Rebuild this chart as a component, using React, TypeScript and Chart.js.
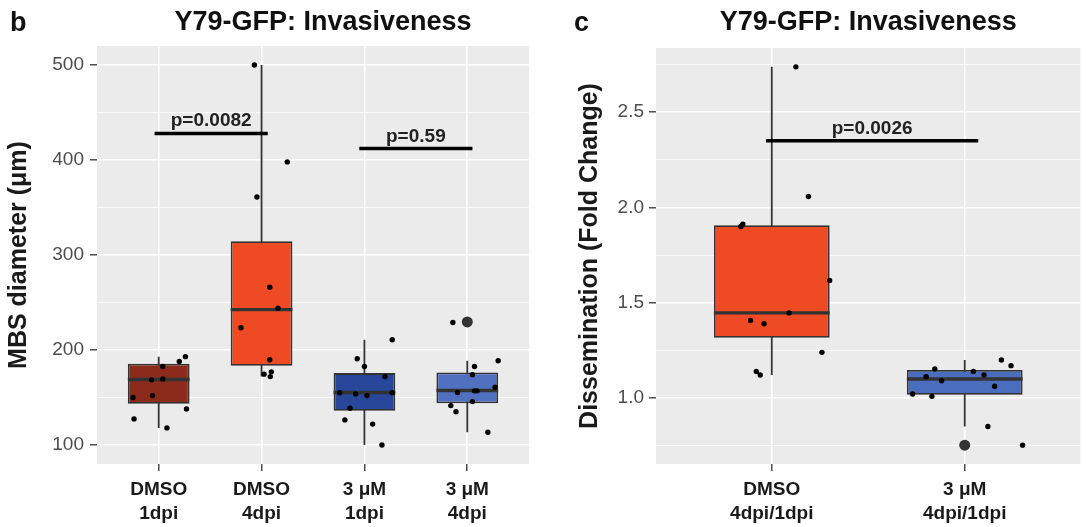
import React, { useEffect, useRef } from "react";
import { Chart, registerables } from "chart.js";

Chart.register(...registerables);

const FONT = '"Liberation Sans", Arial, Helvetica, sans-serif';

// ---------- Panel b data ----------
const bCategories = [["DMSO", "1dpi"], ["DMSO", "4dpi"], ["3 μM", "1dpi"], ["3 μM", "4dpi"]];
const bColors = ["#8C2A1C", "#EE4B24", "#28469A", "#5070C0"];
const bQ1 = [143.5, 183.5, 136, 144];
const bMedian = [169, 242.5, 155.2, 157.3];
const bQ3 = [185.5, 314.6, 175.7, 176.3];
const bWhiskerLow = [118, 172, 100, 113.4];
const bWhiskerHigh = [193, 500, 210.8, 188.7];
const bOutliers = [[], [], [], [229.5]];
const bPoints1 = [150, 127.5, 152, 168.6, 182.6, 169.6, 118, 188, 193, 138];
const bJitter1 = [-0.25, -0.24, -0.06, -0.07, 0.04, 0.04, 0.08, 0.2, 0.26, 0.27];
const bPoints2 = [500, 398, 361, 266, 244, 223.5, 189.7, 174.6, 177, 172];
const bJitter2 = [-0.07, 0.25, -0.045, 0.08, 0.16, -0.2, 0.08, 0.024, 0.095, 0.085];
const bPoints3 = [126.4, 138.7, 155, 153.8, 190.8, 182.6, 152, 122, 100, 172, 155, 210.8];
const bJitter3 = [-0.19, -0.14, -0.24, -0.085, -0.07, 0, 0.025, 0.08, 0.17, 0.2, 0.27, 0.27];
const bPoints4 = [229, 141.5, 135, 155.2, 173.9, 182.6, 145.7, 157, 157, 113.4, 160.8, 188.7];
const bJitter4 = [-0.14, -0.16, -0.11, -0.095, 0.05, 0.07, 0.05, 0.07, 0.095, 0.2, 0.27, 0.3];
const bYMajor = [100, 200, 300, 400, 500];
const bYMinor = [150, 250, 350, 450];
const bYLabels = ["100", "200", "300", "400", "500"];
const bYRange = [80, 520];
const bBracketStart = [-0.04, 1.95];
const bBracketEnd = [1.06, 3.05];
const bBracketY = [428, 412];
const bBracketLabels = ["p=0.0082", "p=0.59"];

// ---------- Panel c data ----------
const cCategories = [["DMSO", "4dpi/1dpi"], ["3 μM", "4dpi/1dpi"]];
const cColors = ["#EE4B24", "#4B6DBD"];
const cQ1 = [1.316, 1.017];
const cMedian = [1.447, 1.1];
const cQ3 = [1.907, 1.147];
const cWhiskerLow = [1.121, 0.851];
const cWhiskerHigh = [2.738, 1.2];
const cOutliers = [[], [0.753]];
const cPoints1 = [2.738, 2.058, 1.9, 1.913, 1.617, 1.447, 1.407, 1.39, 1.24, 1.14, 1.121];
const cJitter1 = [0.125, 0.19, -0.16, -0.15, 0.3, 0.09, -0.11, -0.04, 0.26, -0.08, -0.06];
const cPoints2 = [1.021, 1.112, 1.009, 1.153, 1.091, 1.14, 1.121, 1.062, 0.851, 1.2, 1.17, 0.753];
const cJitter2 = [-0.27, -0.2, -0.17, -0.155, -0.12, 0.045, 0.1, 0.155, 0.12, 0.19, 0.24, 0.3];
const cYMajor = [1.0, 1.5, 2.0, 2.5];
const cYMinor = [0.75, 1.25, 1.75, 2.25, 2.75];
const cYLabels = ["1.0", "1.5", "2.0", "2.5"];
const cYRange = [0.654, 2.837];
const cBracketStart = [-0.03];
const cBracketEnd = [1.07];
const cBracketY = [2.35];
const cBracketLabels = ["p=0.0026"];

const TITLE = "Y79-GFP: Invasiveness";

type Panel = {
  letter: string;
  categories: string[][];
  colors: string[];
  q1: number[];
  median: number[];
  q3: number[];
  wl: number[];
  wh: number[];
  outliers: number[][];
  points: number[][];
  jitter: number[][];
  yMajor: number[];
  yMinor: number[];
  yLabels: string[];
  yRange: number[];
  yTitle: string;
  bStart: number[];
  bEnd: number[];
  bY: number[];
  bLabels: string[];
  width: number;
  left: number;
  yAxisWidth: number;
  top: number;
  right: number;
  xAxisHeight: number;
  yTitlePad: number;
  tickPad: number;
  letterX: number;
  titleShift: number;
};

const panelB: Panel = {
  letter: "b",
  categories: bCategories,
  colors: bColors,
  q1: bQ1,
  median: bMedian,
  q3: bQ3,
  wl: bWhiskerLow,
  wh: bWhiskerHigh,
  outliers: bOutliers,
  points: [bPoints1, bPoints2, bPoints3, bPoints4],
  jitter: [bJitter1, bJitter2, bJitter3, bJitter4],
  yMajor: bYMajor,
  yMinor: bYMinor,
  yLabels: bYLabels,
  yRange: bYRange,
  yTitle: "MBS diameter (μm)",
  bStart: bBracketStart,
  bEnd: bBracketEnd,
  bY: bBracketY,
  bLabels: bBracketLabels,
  width: 545,
  left: 0,
  yAxisWidth: 97,
  top: 46,
  right: 16,
  xAxisHeight: 63,
  yTitlePad: 4.5,
  tickPad: 6,
  letterX: 10,
  titleShift: 10,
};

const panelC: Panel = {
  letter: "c",
  categories: cCategories,
  colors: cColors,
  q1: cQ1,
  median: cMedian,
  q3: cQ3,
  wl: cWhiskerLow,
  wh: cWhiskerHigh,
  outliers: cOutliers,
  points: [cPoints1, cPoints2],
  jitter: [cJitter1, cJitter2],
  yMajor: cYMajor,
  yMinor: cYMinor,
  yLabels: cYLabels,
  yRange: cYRange,
  yTitle: "Dissemination (Fold Change)",
  bStart: cBracketStart,
  bEnd: cBracketEnd,
  bY: cBracketY,
  bLabels: cBracketLabels,
  width: 541,
  left: 545,
  yAxisWidth: 111,
  top: 48,
  right: 0,
  xAxisHeight: 63,
  yTitlePad: 30.5,
  tickPad: 5,
  letterX: 29,
  titleShift: 0,
};

const decorPlugin = {
  id: "decor",
  beforeDraw(chart: any) {
    const { ctx, chartArea } = chart;
    ctx.save();
    ctx.fillStyle = "#EBEBEB";
    ctx.fillRect(chartArea.left, chartArea.top, chartArea.right - chartArea.left, chartArea.bottom - chartArea.top);
    ctx.restore();
  },
  afterDatasetsDraw(chart: any, _args: any, opts: any) {
    const { ctx } = chart;
    const xs = chart.scales.x;
    const ys = chart.scales.y;
    ctx.save();
    ctx.fillStyle = "#222";
    ctx.font = `bold 19px ${FONT}`;
    ctx.textAlign = "center";
    ctx.textBaseline = "alphabetic";
    (opts.labels || []).forEach((lab: string, i: number) => {
      const cx = xs.getPixelForValue((opts.start[i] + opts.end[i]) / 2);
      const cy = ys.getPixelForValue(opts.y[i]) - 7;
      ctx.fillText(lab, cx, cy);
    });
    ctx.restore();
  },
  afterDraw(chart: any, _args: any, opts: any) {
    const { ctx, chartArea } = chart;
    ctx.save();
    ctx.fillStyle = "#111";
    ctx.font = `bold 27px ${FONT}`;
    ctx.textBaseline = "alphabetic";
    ctx.textAlign = "center";
    ctx.fillText(opts.title, (chartArea.left + chartArea.right) / 2 + opts.titleShift, 30);
    ctx.textAlign = "left";
    ctx.fillText(opts.letter, opts.letterX, 31);
    ctx.restore();
  },
};

function BoxPanel({ p }: { p: Panel }) {
  const ref = useRef<HTMLCanvasElement>(null);
  useEffect(() => {
    if (!ref.current) return;
    const hw = 0.3;
    const n = p.categories.length;
    const whiskers: any[] = [];
    const medians: any[] = [];
    const outl: any[] = [];
    const pts: any[] = [];
    for (let i = 0; i < n; i++) {
      whiskers.push({ x: i, y: p.wl[i] }, { x: i, y: p.wh[i] }, { x: i, y: null });
      medians.push({ x: i - hw, y: p.median[i] }, { x: i + hw, y: p.median[i] }, { x: i + hw, y: null });
      p.outliers[i].forEach((v) => outl.push({ x: i, y: v }));
      p.points[i].forEach((v, j) => pts.push({ x: i + p.jitter[i][j], y: v }));
    }
    const brackets = p.bLabels.map((_, i) => ({
      type: "line",
      data: [
        { x: p.bStart[i], y: p.bY[i] },
        { x: p.bEnd[i], y: p.bY[i] },
      ],
      borderColor: "#000",
      borderWidth: 3.5,
      pointRadius: 0,
      order: 0,
    }));
    const allTicks = [...p.yMajor, ...p.yMinor].sort((a, b) => a - b);
    const isMajor = (v: number) => p.yMajor.some((m) => Math.abs(m - v) < 1e-9);

    const chart = new Chart(ref.current, {
      type: "bar",
      data: {
        datasets: [
          {
            type: "bar",
            data: p.categories.map((_, i) => ({ x: i, y: [p.q1[i], p.q3[i]] })),
            backgroundColor: p.colors,
            borderColor: "#333",
            borderWidth: 1.8,
            borderSkipped: false,
            categoryPercentage: 0.6,
            barPercentage: 1,
            order: 3,
          },
          {
            type: "line",
            data: whiskers,
            borderColor: "#333",
            borderWidth: 1.8,
            pointRadius: 0,
            spanGaps: false,
            order: 4,
          },
          {
            type: "line",
            data: medians,
            borderColor: "#333",
            borderWidth: 3.4,
            pointRadius: 0,
            spanGaps: false,
            order: 2,
          },
          {
            type: "line",
            data: outl,
            showLine: false,
            pointRadius: 5.5,
            pointBackgroundColor: "#333",
            pointBorderWidth: 0,
            order: 1,
          },
          {
            type: "line",
            data: pts,
            showLine: false,
            pointRadius: 2.7,
            pointBackgroundColor: "#000",
            pointBorderWidth: 0,
            order: 0,
          },
          ...brackets,
        ] as any,
      },
      options: {
        responsive: false,
        animation: false,
        events: [],
        layout: { padding: { top: p.top, right: p.right, left: 0, bottom: 0 } },
        plugins: {
          legend: { display: false },
          tooltip: { enabled: false },
          title: { display: false },
          decor: {
            title: TITLE,
            titleShift: p.titleShift,
            letter: p.letter,
            letterX: p.letterX,
            labels: p.bLabels,
            start: p.bStart,
            end: p.bEnd,
            y: p.bY,
          },
        } as any,
        scales: {
          x: {
            type: "linear",
            offset: false,
            min: -0.6,
            max: n - 0.4,
            afterBuildTicks: (s: any) => {
              s.ticks = p.categories.map((_, i) => ({ value: i }));
            },
            afterFit: (s: any) => {
              s.height = p.xAxisHeight;
            },
            ticks: {
              autoSkip: false,
              maxRotation: 0,
              minRotation: 0,
              padding: 7,
              color: "#1a1a1a",
              font: { family: FONT, size: 19, weight: "bold", lineHeight: 1.27 },
              callback: (v: any) => p.categories[Math.round(v)] as any,
            },
            grid: {
              offset: false,
              color: "#ffffff",
              lineWidth: 1.6,
              drawTicks: true,
              tickLength: 7,
              tickColor: "#333",
              tickWidth: 1.3,
            },
            border: { display: false },
          },
          y: {
            type: "linear",
            min: p.yRange[0],
            max: p.yRange[1],
            afterBuildTicks: (s: any) => {
              s.ticks = allTicks.map((v) => ({ value: v }));
            },
            afterFit: (s: any) => {
              s.width = p.yAxisWidth;
            },
            ticks: {
              autoSkip: false,
              padding: p.tickPad,
              color: "#4D4D4D",
              font: { family: FONT, size: 19 },
              callback: (v: any) => {
                const idx = p.yMajor.findIndex((m) => Math.abs(m - v) < 1e-9);
                return idx >= 0 ? p.yLabels[idx] : "";
              },
            },
            grid: {
              color: "#ffffff",
              lineWidth: (c: any) => (c.tick && isMajor(c.tick.value) ? 1.6 : 0.8),
              drawTicks: true,
              tickLength: 7,
              tickColor: (c: any) => (c.tick && isMajor(c.tick.value) ? "#333" : "rgba(0,0,0,0)"),
              tickWidth: 1.3,
            },
            border: { display: false },
            title: {
              display: true,
              text: p.yTitle,
              color: "#1a1a1a",
              font: { family: FONT, size: 25, weight: "bold", lineHeight: 1.2 },
              padding: { top: p.yTitlePad, bottom: 0 },
            },
          },
        },
      } as any,
      plugins: [decorPlugin as any],
    });
    return () => chart.destroy();
  }, []);
  return (
    <canvas
      ref={ref}
      width={p.width}
      height={527}
      style={{ position: "absolute", left: p.left, top: 0, width: p.width, height: 527 }}
    />
  );
}

export default function App() {
  return (
    <div style={{ position: "absolute", left: 0, top: 0, width: 1086, height: 527, background: "#fff", overflow: "hidden" }}>
      <BoxPanel p={panelB} />
      <BoxPanel p={panelC} />
    </div>
  );
}
